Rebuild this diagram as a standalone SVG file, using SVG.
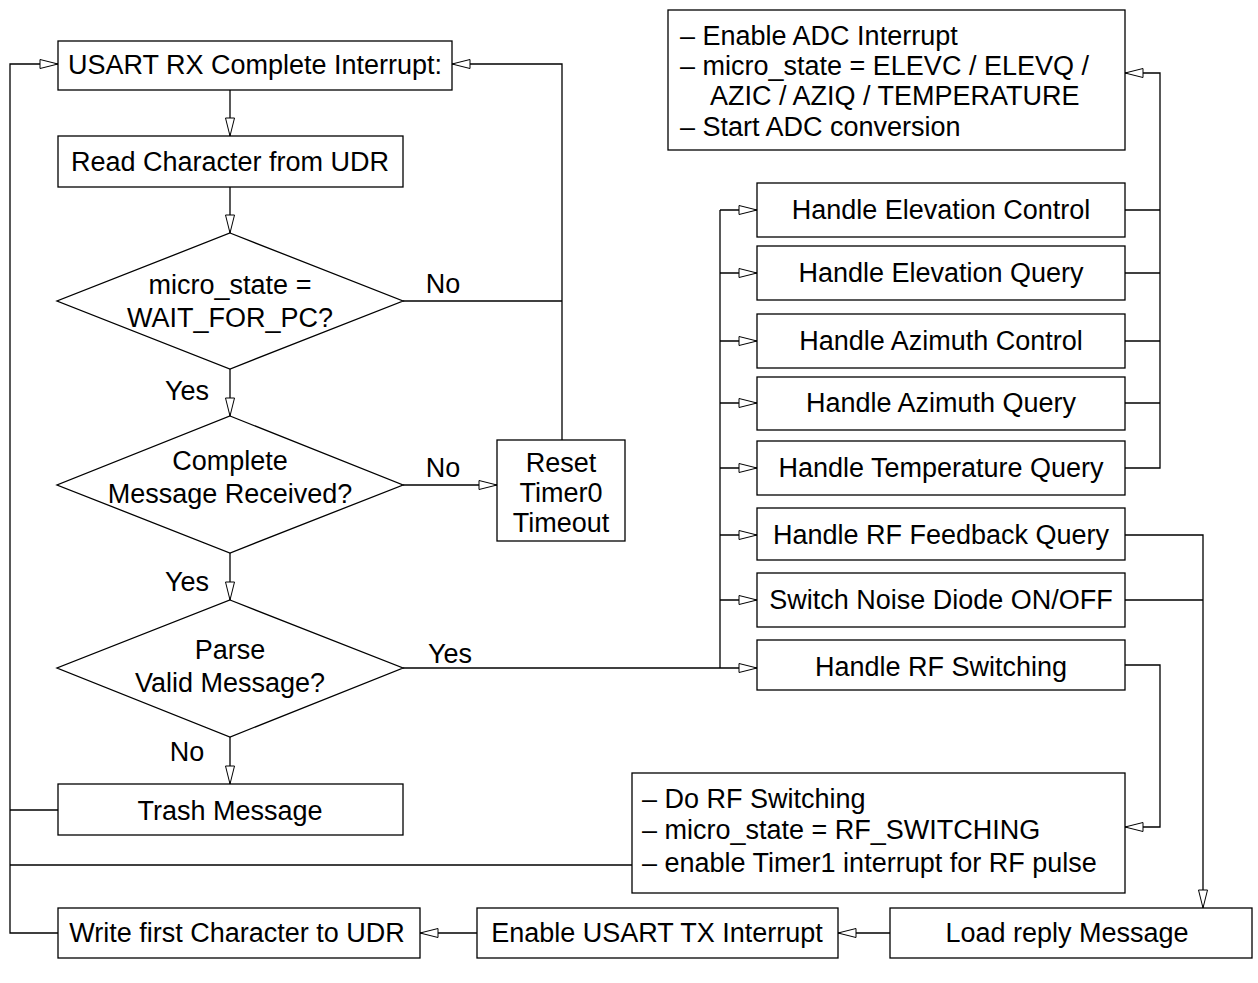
<svg xmlns="http://www.w3.org/2000/svg" width="1258" height="983" viewBox="0 0 1258 983">
<style>
.b{fill:#fff;stroke:#000;stroke-width:1.3}
.c{fill:none;stroke:#000;stroke-width:1.3}
text{font-family:"Liberation Sans",Arial,sans-serif;font-size:27px;fill:#000}
.m{text-anchor:middle}
</style>
<defs>
<marker id="a" markerUnits="userSpaceOnUse" markerWidth="20" markerHeight="12" refX="18" refY="5" orient="auto" overflow="visible">
<path d="M0,0.5 L18,5 L0,9.5 Z" fill="#fff" stroke="#000" stroke-width="1"/>
</marker>
</defs>
<rect width="1258" height="983" fill="#fff"/>
<g id="connectors" class="c">
<path d="M58,933 H10 V64 H58" marker-end="url(#a)"/>
<path d="M58,810 H10"/>
<path d="M632,865 H10"/>
<path d="M230,90 V136" marker-end="url(#a)"/>
<path d="M230,187 V233" marker-end="url(#a)"/>
<path d="M403,301 H562"/>
<path d="M562,440 V64 H452" marker-end="url(#a)"/>
<path d="M230,369 V416" marker-end="url(#a)"/>
<path d="M403,485 H497" marker-end="url(#a)"/>
<path d="M230,553 V600" marker-end="url(#a)"/>
<path d="M403,668 H757" marker-end="url(#a)"/>
<path d="M230,737 V784" marker-end="url(#a)"/>
<path d="M720,668 V210"/>
<path d="M720,210 H757" marker-end="url(#a)"/>
<path d="M720,273 H757" marker-end="url(#a)"/>
<path d="M720,341 H757" marker-end="url(#a)"/>
<path d="M720,403 H757" marker-end="url(#a)"/>
<path d="M720,468 H757" marker-end="url(#a)"/>
<path d="M720,535 H757" marker-end="url(#a)"/>
<path d="M720,600 H757" marker-end="url(#a)"/>
<path d="M1125,210 H1160"/>
<path d="M1125,273 H1160"/>
<path d="M1125,341 H1160"/>
<path d="M1125,403 H1160"/>
<path d="M1125,468 H1160 V73 H1125" marker-end="url(#a)"/>
<path d="M1125,535 H1203 V908" marker-end="url(#a)"/>
<path d="M1125,600 H1203"/>
<path d="M1125,665 H1160 V827 H1125" marker-end="url(#a)"/>
<path d="M890,933 H838" marker-end="url(#a)"/>
<path d="M477,933 H420" marker-end="url(#a)"/>
</g>
<g id="usart_rx"><rect class="b" x="58" y="41" width="394" height="49"/><text x="255" y="74" class="m">USART RX Complete Interrupt:</text></g>
<g id="read_char"><rect class="b" x="58" y="136" width="345" height="51"/><text x="230" y="171" class="m">Read Character from UDR</text></g>
<g id="dec_state"><path class="b" d="M230,233 L403,301 L230,369 L57,301 Z"/><text x="230" y="294" class="m">micro_state =</text><text x="230" y="327" class="m">WAIT_FOR_PC?</text></g>
<g id="dec_complete"><path class="b" d="M230,416 L403,485 L230,553 L57,485 Z"/><text x="230" y="470" class="m">Complete</text><text x="230" y="503" class="m">Message Received?</text></g>
<g id="dec_parse"><path class="b" d="M230,600 L403,668 L230,737 L57,668 Z"/><text x="230" y="659" class="m">Parse</text><text x="230" y="692" class="m">Valid Message?</text></g>
<g id="reset_timer"><rect class="b" x="497" y="440" width="128" height="101"/><text x="561" y="472" class="m">Reset</text><text x="561" y="502" class="m">Timer0</text><text x="561" y="532" class="m">Timeout</text></g>
<g id="trash"><rect class="b" x="58" y="784" width="345" height="51"/><text x="230" y="820" class="m">Trash Message</text></g>
<g id="adc"><rect class="b" x="668" y="10" width="457" height="140"/><text x="680" y="45">– Enable ADC Interrupt</text><text x="680" y="75">– micro_state = ELEVC / ELEVQ /</text><text x="710" y="105">AZIC / AZIQ / TEMPERATURE</text><text x="680" y="136">– Start ADC conversion</text></g>
<g id="h_elev_ctrl"><rect class="b" x="757" y="183" width="368" height="54"/><text x="941" y="219" class="m">Handle Elevation Control</text></g>
<g id="h_elev_query"><rect class="b" x="757" y="246" width="368" height="54"/><text x="941" y="282" class="m">Handle Elevation Query</text></g>
<g id="h_azi_ctrl"><rect class="b" x="757" y="314" width="368" height="54"/><text x="941" y="350" class="m">Handle Azimuth Control</text></g>
<g id="h_azi_query"><rect class="b" x="757" y="377" width="368" height="53"/><text x="941" y="412" class="m">Handle Azimuth Query</text></g>
<g id="h_temp"><rect class="b" x="757" y="441" width="368" height="54"/><text x="941" y="477" class="m">Handle Temperature Query</text></g>
<g id="h_rf_fb"><rect class="b" x="757" y="508" width="368" height="52"/><text x="941" y="544" class="m">Handle RF Feedback Query</text></g>
<g id="noise"><rect class="b" x="757" y="573" width="368" height="54"/><text x="941" y="609" class="m">Switch Noise Diode ON/OFF</text></g>
<g id="h_rf_sw"><rect class="b" x="757" y="640" width="368" height="50"/><text x="941" y="676" class="m">Handle RF Switching</text></g>
<g id="do_rf"><rect class="b" x="632" y="773" width="493" height="120"/><text x="642" y="808">– Do RF Switching</text><text x="642" y="839">– micro_state = RF_SWITCHING</text><text x="642" y="872">– enable Timer1 interrupt for RF pulse</text></g>
<g id="write_first"><rect class="b" x="58" y="908" width="362" height="50"/><text x="237" y="942" class="m">Write first Character to UDR</text></g>
<g id="enable_tx"><rect class="b" x="477" y="908" width="361" height="50"/><text x="657" y="942" class="m">Enable USART TX Interrupt</text></g>
<g id="load_reply"><rect class="b" x="890" y="908" width="362" height="50"/><text x="1067" y="942" class="m">Load reply Message</text></g>
<g id="labels">
<text x="443" y="293" class="m">No</text>
<text x="443" y="477" class="m">No</text>
<text x="187" y="400" class="m">Yes</text>
<text x="187" y="591" class="m">Yes</text>
<text x="450" y="663" class="m">Yes</text>
<text x="187" y="761" class="m">No</text>
</g>
</svg>
